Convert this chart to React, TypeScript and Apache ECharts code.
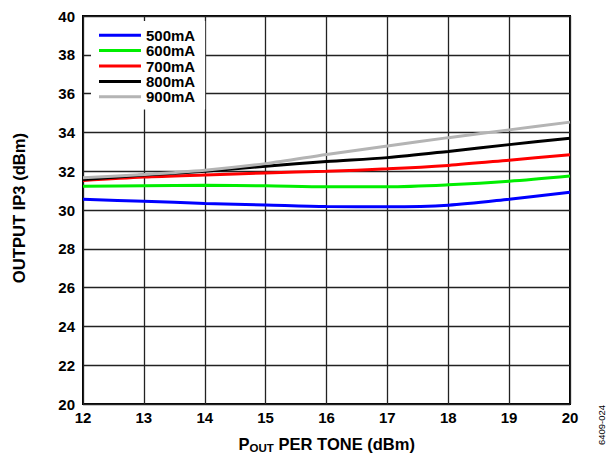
import React, { useEffect, useRef } from "react";
import * as echarts from "echarts";

const xValues = [12, 13, 14, 15, 16, 17, 18, 19, 20];
const seriesNames = ["500mA", "600mA", "700mA", "800mA", "900mA"];
const seriesColors = ["#0000ff", "#00ee00", "#ff0000", "#000000", "#b4b4b4"];
const ma500 = [30.55, 30.45, 30.34, 30.26, 30.18, 30.17, 30.25, 30.56, 30.92];
const ma600 = [31.23, 31.25, 31.27, 31.25, 31.2, 31.2, 31.3, 31.48, 31.75];
const ma700 = [31.52, 31.7, 31.81, 31.91, 32.0, 32.12, 32.3, 32.57, 32.85];
const ma800 = [31.57, 31.8, 32.0, 32.26, 32.5, 32.7, 33.02, 33.37, 33.7];
const ma900 = [31.66, 31.83, 32.05, 32.39, 32.86, 33.3, 33.73, 34.13, 34.53];
const allSeries = [ma500, ma600, ma700, ma800, ma900];

const FONT = "Liberation Sans, Arial, sans-serif";
const LEGEND_ICON = "path://M0,0h0.01v0.01h-0.01zM0,5.5h42v3h-42zM0,14h0.01v0.01h-0.01z";

export default function App() {
  const ref = useRef<HTMLDivElement>(null);
  useEffect(() => {
    if (!ref.current) return;
    const chart = echarts.init(ref.current, null, { renderer: "svg" });
    const left = 83, top = 16, width = 487, height = 388;
    const titleStyle = { fontFamily: FONT, fontWeight: "bold", fill: "#000", verticalAlign: "middle", align: "left" };
    chart.setOption({
      animation: false,
      backgroundColor: "#ffffff",
      grid: { left, top, width, height, show: true, borderColor: "#000", borderWidth: 2, backgroundColor: "transparent" },
      xAxis: {
        type: "value",
        min: 12,
        max: 20,
        interval: 1,
        axisLine: { show: false },
        axisTick: { show: false },
        splitLine: { show: true, lineStyle: { color: "#222", width: 1.3 } },
        axisLabel: { color: "#000", fontFamily: FONT, fontWeight: "bold", fontSize: 15, margin: 6 },
      },
      yAxis: {
        type: "value",
        min: 20,
        max: 40,
        interval: 2,
        axisLine: { show: false },
        axisTick: { show: false },
        splitLine: { show: true, lineStyle: { color: "#222", width: 1.3 } },
        axisLabel: { color: "#000", fontFamily: FONT, fontWeight: "bold", fontSize: 15, margin: 8 },
      },
      legend: {
        orient: "vertical",
        left: 91,
        top: 21,
        padding: [6.7, 10, 5.3, 8],
        backgroundColor: "#ffffff",
        itemWidth: 42,
        itemHeight: 14,
        itemGap: 0.4,
        icon: LEGEND_ICON,
        textStyle: { color: "#000", fontFamily: FONT, fontWeight: "bold", fontSize: 15, lineHeight: 15 },
        data: seriesNames,
      },
      series: allSeries.map((vals, i) => ({
        name: seriesNames[i],
        type: "line",
        data: xValues.map((x, j) => [x, vals[j]]),
        smooth: 0.3,
        symbol: "none",
        showSymbol: false,
        color: seriesColors[i],
        lineStyle: { color: seriesColors[i], width: 3 },
        z: 3 + i,
      })),
      graphic: [
        {
          type: "text",
          x: 19.5,
          y: 208,
          rotation: Math.PI / 2,
          style: {
            text: "OUTPUT IP3 (dBm)",
            fontFamily: FONT,
            fontWeight: "bold",
            fontSize: 16.6,
            fill: "#000",
            align: "center",
            verticalAlign: "middle",
          },
        },
        { type: "text", x: 238.5, y: 444, style: { ...titleStyle, text: "P", fontSize: 16.5 } },
        { type: "text", x: 249.5, y: 447.5, style: { ...titleStyle, text: "OUT", fontSize: 11.5 } },
        { type: "text", x: 274, y: 444, style: { ...titleStyle, text: " PER TONE (dBm)", fontSize: 16.5 } },
        {
          type: "text",
          x: 601,
          y: 425,
          rotation: Math.PI / 2,
          style: {
            text: "6409-024",
            fontFamily: FONT,
            fontSize: 9.5,
            fill: "#000",
            align: "center",
            verticalAlign: "middle",
          },
        },
      ],
    });
    return () => chart.dispose();
  }, []);
  return (
    <div
      ref={ref}
      style={{ position: "fixed", left: 0, top: 0, width: 606, height: 454, background: "#fff" }}
    />
  );
}
